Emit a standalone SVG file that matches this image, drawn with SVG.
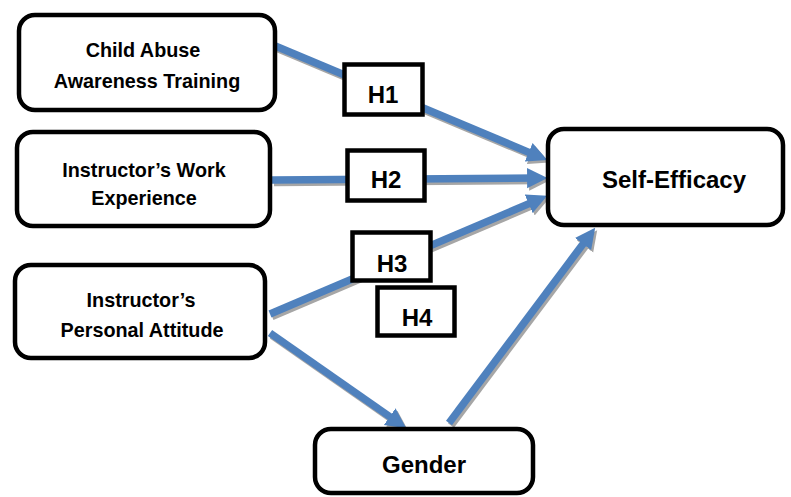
<svg xmlns="http://www.w3.org/2000/svg" width="791" height="497" viewBox="0 0 791 497">
  <style>
    .node { fill: #ffffff; stroke: #000000; stroke-width: 4.5; }
    .hyp { fill: #ffffff; stroke: #000000; stroke-width: 4.5; }
    .label { font-family: "Liberation Sans", Arial, sans-serif; font-weight: bold; fill: #000000; text-anchor: middle; }
    .small { font-size: 19.8px; }
    .big { font-size: 24px; }
    .line { fill: none; stroke: #4F81BD; stroke-width: 7.5; marker-end: url(#head); }
    .shadow { fill: none; stroke: #A6A6A6; stroke-width: 7.5; marker-end: url(#headShadow); }
  </style>
  <defs>
    <marker id="head" viewBox="0 0 10 10" refX="4.9" refY="5" markerWidth="2.7" markerHeight="2.9" markerUnits="strokeWidth" orient="auto">
      <path d="M0,0 L10,5 L0,10 z" fill="#4F81BD"/>
    </marker>
    <marker id="headShadow" viewBox="0 0 10 10" refX="4.9" refY="5" markerWidth="2.7" markerHeight="2.9" markerUnits="strokeWidth" orient="auto">
      <path d="M0,0 L10,5 L0,10 z" fill="#A6A6A6"/>
    </marker>
  </defs>

  <!-- connectors: gray drop shadow first, blue arrow on top -->
  <g id="connectors">
    <g transform="translate(2,2.5)">
      <path class="shadow" d="M273,45 L537.8,156.1"/>
      <path class="shadow" d="M272,180 L537,178.1"/>
      <path class="shadow" d="M270,314 L537.8,199.9"/>
      <path class="shadow" d="M270,333 L397.8,422.3"/>
      <path class="shadow" d="M449,423 L589,236"/>
    </g>
    <path class="line" d="M273,45 L537.8,156.1"/>
    <path class="line" d="M272,180 L537,178.1"/>
    <path class="line" d="M270,314 L537.8,199.9"/>
    <path class="line" d="M270,333 L397.8,422.3"/>
    <path class="line" d="M449,423 L589,236"/>
  </g>

  <g id="training">
    <rect class="node" x="19" y="15" width="256" height="95" rx="16"/>
    <text class="label small" x="143" y="57">Child Abuse</text>
    <text class="label small" x="147" y="88">Awareness Training</text>
  </g>

  <g id="experience">
    <rect class="node" x="17" y="132" width="253" height="94" rx="16"/>
    <text class="label small" x="144" y="177">Instructor’s Work</text>
    <text class="label small" x="144" y="205">Experience</text>
  </g>

  <g id="attitude">
    <rect class="node" x="15" y="265" width="250" height="93" rx="16"/>
    <text class="label small" x="141" y="307">Instructor’s</text>
    <text class="label small" x="142" y="337">Personal Attitude</text>
  </g>

  <g id="self-efficacy">
    <rect class="node" x="548" y="129" width="235" height="96" rx="16"/>
    <text class="label big" x="674" y="188">Self-Efficacy</text>
  </g>

  <g id="gender">
    <rect class="node" x="315" y="429" width="218" height="64" rx="16"/>
    <text class="label big" x="424" y="473">Gender</text>
  </g>

  <g id="h1">
    <rect class="hyp" x="344.5" y="64.5" width="78" height="50"/>
    <text class="label big" x="383" y="103">H1</text>
  </g>

  <g id="h2">
    <rect class="hyp" x="347.5" y="150.5" width="77" height="50"/>
    <text class="label big" x="386" y="188">H2</text>
  </g>

  <g id="h3">
    <rect class="hyp" x="352.5" y="232.5" width="78" height="48"/>
    <text class="label big" x="392" y="272">H3</text>
  </g>

  <g id="h4">
    <rect class="hyp" x="377.5" y="287.5" width="77" height="48"/>
    <text class="label big" x="417" y="326">H4</text>
  </g>
</svg>
